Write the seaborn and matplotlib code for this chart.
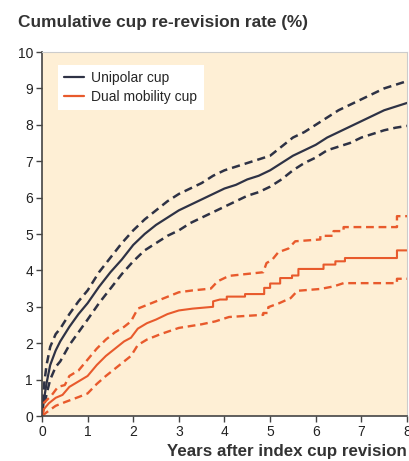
import numpy as np
import pandas as pd
import seaborn as sns
import matplotlib.pyplot as plt
from matplotlib.lines import Line2D

# 累积翻修率曲线
uni_t = [0, 0.05, 0.1, 0.18, 0.3, 0.4, 0.6, 0.8, 1.0, 1.25, 1.5, 1.75, 2.0, 2.25, 2.5, 2.75,
         3.0, 3.25, 3.5, 3.75, 4.0, 4.25, 4.5, 4.75, 5.0, 5.25, 5.5, 5.75, 6.0, 6.25, 6.5,
         6.75, 7.0, 7.25, 7.5, 7.75, 8.0]
uni_mid = [0, 0.5, 0.9, 1.4, 1.8, 2.05, 2.45, 2.8, 3.1, 3.55, 3.95, 4.3, 4.7, 5.0, 5.25, 5.45,
           5.65, 5.8, 5.95, 6.1, 6.25, 6.35, 6.5, 6.6, 6.75, 6.95, 7.15, 7.3, 7.45, 7.65, 7.8,
           7.95, 8.1, 8.25, 8.4, 8.5, 8.6]
uni_hi = [0, 0.9, 1.4, 1.9, 2.25, 2.4, 2.8, 3.15, 3.45, 3.95, 4.35, 4.75, 5.1, 5.4, 5.65, 5.9,
          6.1, 6.25, 6.4, 6.6, 6.75, 6.85, 6.95, 7.05, 7.15, 7.4, 7.65, 7.8, 8.0, 8.2, 8.4,
          8.55, 8.7, 8.85, 9.0, 9.1, 9.2]
uni_lo = [0, 0.3, 0.6, 1.0, 1.35, 1.5, 1.95, 2.3, 2.65, 3.1, 3.5, 3.9, 4.25, 4.55, 4.75, 4.95,
          5.1, 5.3, 5.45, 5.6, 5.75, 5.9, 6.05, 6.15, 6.3, 6.5, 6.75, 6.95, 7.1, 7.3, 7.4,
          7.5, 7.65, 7.75, 7.85, 7.92, 7.97]

# 双动杯：前段事件密集，后段为明显的阶梯
dm_mid_t = [0, 0.05, 0.15, 0.3, 0.45, 0.6, 0.8, 1.0, 1.2, 1.4, 1.6, 1.8, 1.95, 2.1, 2.3, 2.5,
            2.75, 3.0, 3.3, 3.75, 3.75, 3.9, 4.05, 4.05, 4.45, 4.45, 4.87, 4.87, 5.0, 5.0,
            5.22, 5.22, 5.48, 5.48, 5.62, 5.62, 6.17, 6.17, 6.43, 6.43, 6.64, 6.64, 7.78,
            7.78, 8.0]
dm_mid = [0, 0.2, 0.35, 0.5, 0.58, 0.8, 0.95, 1.1, 1.4, 1.65, 1.85, 2.05, 2.15, 2.4, 2.55, 2.65,
          2.8, 2.9, 2.95, 3.0, 3.15, 3.2, 3.2, 3.28, 3.28, 3.35, 3.35, 3.52, 3.52, 3.64,
          3.64, 3.79, 3.79, 3.86, 3.86, 4.04, 4.04, 4.16, 4.16, 4.25, 4.25, 4.34, 4.34,
          4.55, 4.55]
dm_hi_t = [0, 0.03, 0.2, 0.35, 0.5, 0.6, 0.8, 1.0, 1.2, 1.4, 1.6, 1.8, 1.95, 2.1, 2.3, 2.6, 3.0,
           3.3, 3.7, 3.85, 4.1, 4.85, 4.92, 5.05, 5.18, 5.4, 5.55, 6.1, 6.1, 6.39, 6.39,
           6.61, 6.61, 7.78, 7.78, 8.0]
dm_hi = [0, 0.35, 0.55, 0.8, 0.85, 1.1, 1.25, 1.55, 1.85, 2.1, 2.3, 2.45, 2.6, 2.95, 3.05, 3.2, 3.4,
         3.45, 3.5, 3.7, 3.85, 3.95, 4.2, 4.3, 4.5, 4.6, 4.8, 4.85, 4.95, 4.95, 5.08,
         5.08, 5.19, 5.19, 5.49, 5.49]
dm_lo_t = [0, 0.1, 0.3, 0.5, 0.8, 1.0, 1.2, 1.4, 1.6, 1.8, 1.95, 2.1, 2.3, 2.6, 3.0, 3.5, 3.8, 4.1,
           4.85, 4.85, 4.96, 4.96, 5.2, 5.45, 5.6, 6.1, 6.39, 6.61, 7.78, 7.78, 8.0]
dm_lo = [0, 0.1, 0.28, 0.38, 0.52, 0.62, 0.88, 1.1, 1.3, 1.5, 1.65, 1.95, 2.1, 2.25, 2.42, 2.52, 2.6, 2.72,
         2.78, 2.83, 2.83, 2.99, 3.1, 3.24, 3.44, 3.49, 3.56, 3.65, 3.65, 3.77, 3.77]

labels = ['Unipolar cup', 'Dual mobility cup']
c_uni = '#2e3245'
c_dm = '#e85a2c'

sns.set_style('ticks')
plt.rcParams['font.family'] = ['Liberation Sans', 'DejaVu Sans']

fig = plt.figure(figsize=(4.1, 4.61), dpi=100)
ax = fig.add_axes([0.1024, 0.0976, 0.8903, 0.7896])
ax.set_facecolor('#feefd5')

sns.lineplot(x=uni_t, y=uni_mid, color=c_uni, lw=1.6, ax=ax, estimator=None, sort=False)
sns.lineplot(x=uni_t, y=uni_hi, color=c_uni, lw=1.8, ax=ax, estimator=None, sort=False)
sns.lineplot(x=uni_t, y=uni_lo, color=c_uni, lw=1.8, ax=ax, estimator=None, sort=False)
sns.lineplot(x=dm_mid_t, y=dm_mid, color=c_dm, lw=1.5, ax=ax, estimator=None, sort=False)
sns.lineplot(x=dm_hi_t, y=dm_hi, color=c_dm, lw=1.7, ax=ax, estimator=None, sort=False)
sns.lineplot(x=dm_lo_t, y=dm_lo, color=c_dm, lw=1.7, ax=ax, estimator=None, sort=False)
for ln in ax.lines[1:3] + ax.lines[4:6]:
    ln.set_linestyle((0, (3.3, 2.0)))

ax.set_xlim(0, 8)
ax.set_ylim(0, 10)
ax.set_xticks(range(0, 9))
ax.set_yticks(range(0, 11))
ax.tick_params(labelsize=10, length=4.5, width=1, color='#444444', labelcolor='#222222', pad=2)
for s in ['left', 'bottom']:
    ax.spines[s].set_color('#444444')
    ax.spines[s].set_linewidth(1.2)
for s in ['top', 'right']:
    ax.spines[s].set_color('#cccccc')
    ax.spines[s].set_linewidth(0.8)
ax.set_xlabel('')
ax.set_ylabel('')

handles = [Line2D([], [], color=c_uni, lw=1.6), Line2D([], [], color=c_dm, lw=1.6)]
leg = ax.legend(handles, labels, loc='upper left', bbox_to_anchor=(0.044, 0.964),
                frameon=True, fancybox=False, fontsize=10, handlelength=1.45,
                handletextpad=0.5, borderpad=0.45, labelspacing=0.35, borderaxespad=0)
leg.get_frame().set_facecolor('white')
leg.get_frame().set_edgecolor('none')
leg.get_frame().set_alpha(1)

fig.text(0.044, 0.952, 'Cumulative cup re-revision rate (%)', fontsize=12.4,
         fontweight='bold', color='#333333', va='center', ha='left')
fig.text(0.993, 0.02, 'Years after index cup revision', fontsize=12.2,
         fontweight='bold', color='#333333', va='center', ha='right')

fig.savefig('out.png', dpi=100)
